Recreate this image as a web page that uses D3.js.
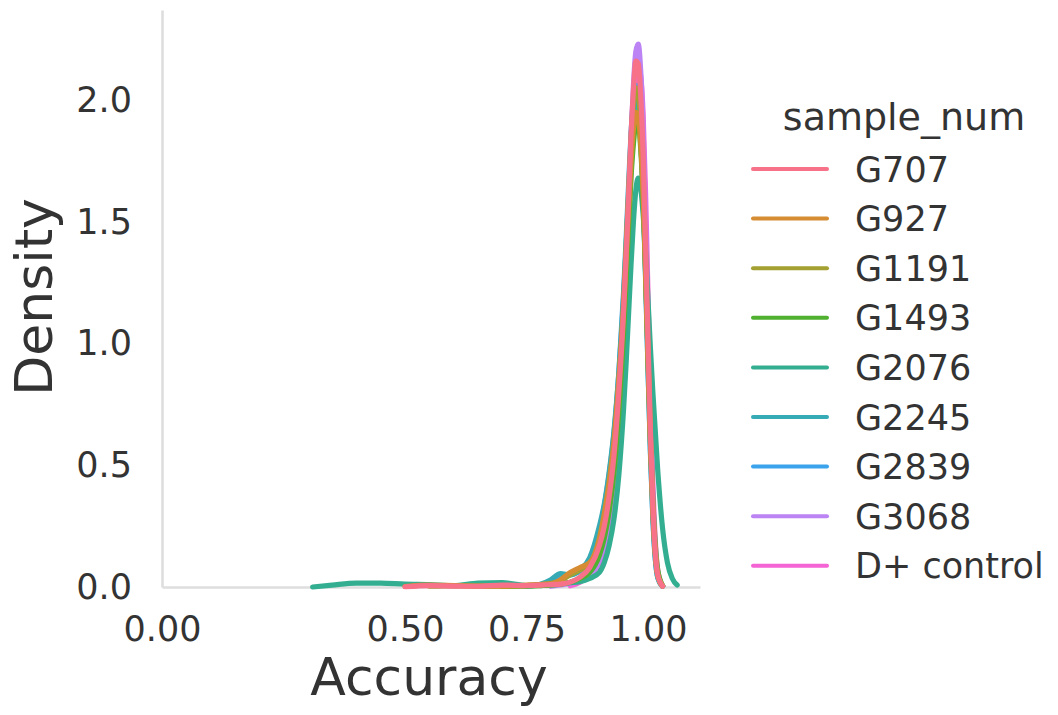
<!DOCTYPE html>
<html>
<head>
<meta charset="utf-8">
<script src="https://cdn.jsdelivr.net/npm/d3@7"></script>
<style>
  html, body { margin: 0; padding: 0; background: #fff; }
  svg { display: block; }
  text { font-family: "DejaVu Sans", sans-serif; fill: #333; }
</style>
</head>
<body>
<div id="chart"></div>
<script>
const ACCURACY = [0.31, 0.35, 0.40, 0.45, 0.50, 0.55, 0.60, 0.65, 0.70, 0.75,
    0.78, 0.80, 0.82, 0.84, 0.86, 0.88, 0.90, 0.91, 0.92, 0.93,
    0.94, 0.95, 0.955, 0.96, 0.965, 0.97, 0.975, 0.98, 0.985, 0.99,
    0.995, 1.00, 1.005, 1.01, 1.02, 1.03, 1.04, 1.05, 1.06, 1.07];

// sample names (hue levels) and their colours
const SAMPLES = ["G707", "G927", "G1191", "G1493", "G2076", "G2245", "G2839", "G3068", "D+ control"];
const COLORS = ["#f77189", "#d58c32", "#a4a031", "#50b131", "#34ae91", "#37abb5", "#3ba3ec", "#bb83f4", "#f564d4"];

// density per sample, null = outside that curve's support
const D_G707 = [null, null, null, null, 0.001, 0.006, 0.004, 0.003, 0.008, 0.006,
    0.008, 0.010, 0.012, 0.020, 0.040, 0.080, 0.17, 0.25, 0.37, 0.54,
    0.80, 1.14, 1.36, 1.60, 1.85, 2.04, 2.16, 2.15, 2.02, 1.78,
    1.42, 1.02, 0.64, 0.34, 0.05, 0.003, null, null, null, null];
const D_G927 = [null, null, null, null, 0.002, 0.008, 0.006, 0.004, 0.004, 0.008,
    0.010, 0.012, 0.030, 0.060, 0.080, 0.100, 0.20, 0.30, 0.43, 0.60,
    0.85, 1.15, 1.35, 1.55, 1.74, 1.88, 1.95, 1.93, 1.82, 1.62,
    1.30, 0.95, 0.60, 0.32, 0.05, 0.004, null, null, null, null];
const D_G1191 = [null, null, null, null, null, 0.003, 0.006, 0.004, 0.003, 0.006,
    0.010, 0.015, 0.025, 0.050, 0.070, 0.090, 0.18, 0.27, 0.40, 0.57,
    0.84, 1.18, 1.40, 1.62, 1.84, 1.98, 2.05, 2.03, 1.90, 1.66,
    1.32, 0.95, 0.60, 0.32, 0.05, 0.004, null, null, null, null];
const D_G1493 = [null, null, null, null, null, null, null, null, 0.002, 0.004,
    0.006, 0.008, 0.012, 0.020, 0.035, 0.060, 0.13, 0.20, 0.31, 0.47,
    0.72, 1.05, 1.26, 1.48, 1.68, 1.82, 1.90, 1.90, 1.80, 1.60,
    1.30, 0.96, 0.63, 0.36, 0.07, 0.006, null, null, null, null];
const D_G2076 = [0.000, 0.008, 0.016, 0.016, 0.012, 0.010, 0.006, 0.016, 0.018, 0.006,
    0.008, 0.012, 0.015, 0.018, 0.022, 0.035, 0.06, 0.10, 0.17, 0.28,
    0.46, 0.74, 0.92, 1.12, 1.32, 1.50, 1.63, 1.68, 1.64, 1.53,
    1.38, 1.18, 0.98, 0.80, 0.48, 0.24, 0.10, 0.035, 0.008, null];
const D_G2245 = [null, null, null, null, null, null, null, null, null, 0.002,
    0.012, 0.030, 0.055, 0.050, 0.070, 0.12, 0.25, 0.34, 0.47, 0.64,
    0.88, 1.20, 1.40, 1.60, 1.80, 1.93, 2.00, 1.97, 1.84, 1.60,
    1.27, 0.90, 0.56, 0.29, 0.04, 0.003, null, null, null, null];
const D_G2839 = [null, null, null, null, null, null, null, null, null, null,
    0.006, 0.020, 0.045, 0.050, 0.065, 0.11, 0.23, 0.33, 0.46, 0.63,
    0.88, 1.22, 1.43, 1.65, 1.86, 2.00, 2.06, 2.03, 1.88, 1.62,
    1.28, 0.90, 0.55, 0.28, 0.04, 0.003, null, null, null, null];
const D_G3068 = [null, null, null, null, null, null, null, null, null, null,
    null, 0.003, 0.008, 0.015, 0.030, 0.050, 0.11, 0.18, 0.29, 0.45,
    0.70, 1.05, 1.30, 1.56, 1.84, 2.06, 2.20, 2.23, 2.12, 1.88,
    1.50, 1.08, 0.68, 0.36, 0.05, 0.003, null, null, null, null];
const D_DCTRL = [null, null, null, null, null, null, null, null, null, null,
    null, null, null, 0.005, 0.020, 0.050, 0.10, 0.16, 0.26, 0.41,
    0.64, 0.98, 1.20, 1.44, 1.70, 1.92, 2.07, 2.14, 2.10, 1.94,
    1.62, 1.20, 0.78, 0.43, 0.07, 0.005, null, null, null, null];

const DENSITIES = [D_G707, D_G927, D_G1191, D_G1493, D_G2076, D_G2245, D_G2839, D_G3068, D_DCTRL];

// tick labels
const X_TICKS = [0.00, 0.50, 0.75, 1.00];
const Y_TICKS = [0.0, 0.5, 1.0, 1.5, 2.0];

function drawChart() {
    const W = 1058, H = 715;
    const left = 162, right = 700, top = 10, bottom = 587;

    const svg = d3.select("#chart")
        .append("svg")
        .attr("width", W)
        .attr("height", H);

    svg.append("rect").attr("width", W).attr("height", H).attr("fill", "#fff");

    // scales
    const x = d3.scaleLinear().domain([0, 1.107]).range([left, right]);
    const y = d3.scaleLinear().domain([0, 2.37]).range([bottom, top]);

    // x axis (domain line acts as the spine)
    const xAxis = svg.append("g")
        .attr("transform", `translate(0,${bottom})`)
        .call(d3.axisBottom(x).tickValues(X_TICKS).tickFormat(d3.format(".2f"))
            .tickSize(0).tickSizeOuter(0).tickPadding(29));
    xAxis.attr("font-family", null).attr("font-size", null);
    xAxis.selectAll("text").attr("font-size", 35).attr("fill", "#333");

    // y axis
    const yAxis = svg.append("g")
        .attr("transform", `translate(${left},0)`)
        .call(d3.axisLeft(y).tickValues(Y_TICKS).tickFormat(d3.format(".1f"))
            .tickSize(0).tickSizeOuter(0).tickPadding(30));
    yAxis.attr("font-family", null).attr("font-size", null);
    yAxis.selectAll("text").attr("font-size", 35).attr("fill", "#333");

    svg.selectAll(".domain").attr("stroke", "#dedede").attr("stroke-width", 2.6);

    // density curves, first hue level drawn last (on top)
    const line = d3.line()
        .defined(d => d[1] != null)
        .x(d => x(d[0]))
        .y(d => y(d[1]))
        .curve(d3.curveMonotoneX);

    const series = SAMPLES.map((name, i) => ({
        name: name,
        color: COLORS[i],
        points: ACCURACY.map((a, j) => [a, DENSITIES[i][j]])
    }));

    svg.append("g")
        .selectAll("path")
        .data(series.slice().reverse())
        .enter()
        .append("path")
        .attr("d", d => line(d.points))
        .attr("fill", "none")
        .attr("stroke", d => d.color)
        .attr("stroke-width", 5.2)
        .attr("stroke-linecap", "round")
        .attr("stroke-linejoin", "round");

    // axis labels
    svg.append("text")
        .attr("x", 429)
        .attr("y", 695)
        .attr("text-anchor", "middle")
        .attr("font-size", 52)
        .text("Accuracy");

    svg.append("text")
        .attr("transform", "translate(52,297) rotate(-90)")
        .attr("text-anchor", "middle")
        .attr("font-size", 52)
        .text("Density");

    // legend
    const legend = svg.append("g");
    legend.append("text")
        .attr("x", 904)
        .attr("y", 130)
        .attr("text-anchor", "middle")
        .attr("font-size", 38)
        .text("sample_num");

    const rows = legend.selectAll(".row")
        .data(series)
        .enter()
        .append("g")
        .attr("class", "row")
        .attr("transform", (d, i) => `translate(0,${169 + i * 49.6})`);

    rows.append("line")
        .attr("x1", 753).attr("x2", 827)
        .attr("y1", 0).attr("y2", 0)
        .attr("stroke", d => d.color)
        .attr("stroke-width", 4)
        .attr("stroke-linecap", "round");

    rows.append("text")
        .attr("x", 855)
        .attr("y", 12.5)
        .attr("font-size", 35)
        .text(d => d.name);
}

drawChart();
</script>
</body>
</html>
